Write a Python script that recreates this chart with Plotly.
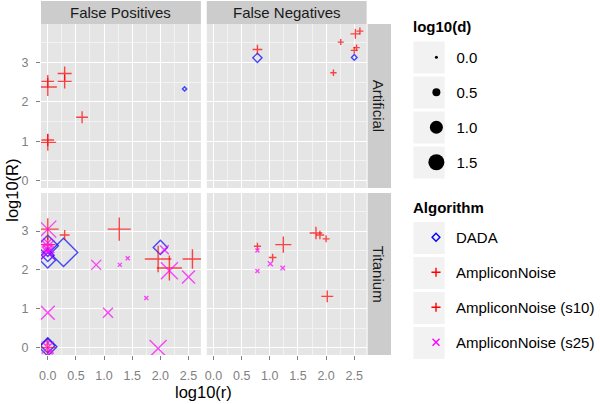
import pandas as pd
import plotly.graph_objects as go

W, H = 600, 404

error_types = ["False Positives", "False Negatives"]
datasets = ["Artificial", "Titanium"]
algorithms = ["DADA", "AmpliconNoise", "AmpliconNoise (s10)", "AmpliconNoise (s25)"]
size_breaks = [0.0, 0.5, 1.0, 1.5]
x_ticks = [0.0, 0.5, 1.0, 1.5, 2.0, 2.5]
y_ticks = [0, 1, 2, 3]

# panel codes: FP/FN = false positives/negatives, A/T = Artificial/Titanium
# values are log10(r), log10(R), log10(d)
dada_panel = ["FP-A", "FN-A", "FN-A", "FP-T", "FP-T", "FP-T", "FP-T", "FP-T", "FP-T", "FP-T"]
dada_r = [2.43, 0.78, 2.50, 0.0, 0.28, 0.0, 0.0, 0.0, 0.0, 2.0]
dada_R = [2.33, 3.12, 3.13, 2.62, 2.45, 2.38, 2.25, 0.02, 0.05, 2.58]
dada_d = [0.0, 0.35, 0.1, 1.2, 1.7, 0.6, 0.8, 1.0, 0.7, 0.7]

an_panel = ["FP-A"] * 7 + ["FN-A"] * 5 + ["FP-T"] * 4 + ["FN-T"] * 4
an_r = [0.0, 0.0, 0.30, 0.30, 0.61, 0.0, 0.0,
        0.78, 2.26, 2.52, 2.60, 2.50,
        0.0, 0.30, 1.96, 0.0,
        0.78, 1.24, 1.82, 2.02]
an_R = [2.38, 2.52, 2.72, 2.52, 1.61, 1.03, 0.97,
        3.33, 3.52, 3.73, 3.80, 3.31,
        3.05, 2.90, 2.28, 0.0,
        2.61, 2.65, 2.95, 1.32]
an_d = [1.0, 0.6, 0.7, 0.7, 0.55, 0.6, 0.9,
        0.4, 0.13, 0.4, 0.2, 0.2,
        1.25, 0.4, 1.6, 0.9,
        0.2, 0.85, 0.6, 0.55]

s10_panel = ["FN-A"] * 2 + ["FP-T"] * 4 + ["FN-T"] * 3
s10_r = [2.54, 2.13, 1.27, 0.0, 2.16, 2.57, 1.05, 1.89, 2.00]
s10_R = [3.38, 2.74, 3.05, 2.65, 2.05, 2.28, 2.32, 2.90, 2.80]
s10_d = [0.15, 0.15, 1.35, 0.8, 1.5, 1.1, 0.25, 0.3, 0.2]

s25_panel = ["FP-T"] * 18 + ["FN-T"] * 4
s25_r = [0.0, 0.0, 0.0, 0.0, 0.0, 0.86, 1.28, 1.42, 1.75, 1.07, 0.0, 1.96,
         0.0, 0.0, 0.05, 2.07, 2.16, 2.50,
         0.78, 0.78, 1.01, 1.23]
s25_R = [3.05, 2.70, 2.60, 2.52, 2.45, 2.13, 2.13, 2.30, 1.28, 0.90, 0.90, -0.02,
         0.0, 0.12, -0.12, 2.52, 1.98, 1.82,
         2.50, 1.97, 2.16, 2.05]
s25_d = [1.4, 0.6, 1.0, 0.8, 0.9, 0.7, 0.1, 0.1, 0.1, 0.7, 1.1, 1.4,
         0.9, 0.15, 0.15, 0.6, 1.4, 1.0,
         0.1, 0.1, 0.2, 0.15]

frames = []
for alg, pan, r, R, d in [
    ("DADA", dada_panel, dada_r, dada_R, dada_d),
    ("AmpliconNoise", an_panel, an_r, an_R, an_d),
    ("AmpliconNoise (s10)", s10_panel, s10_r, s10_R, s10_d),
    ("AmpliconNoise (s25)", s25_panel, s25_r, s25_R, s25_d),
]:
    frames.append(pd.DataFrame({"alg": alg, "panel": pan, "r": r, "R": R, "d": d}))
df = pd.concat(frames, ignore_index=True)

styles = {
    "DADA": dict(symbol="diamond-open", color="#0000FF", k=1.09),
    "AmpliconNoise": dict(symbol="cross-thin", color="#FF0000", k=1.0),
    "AmpliconNoise (s10)": dict(symbol="cross-thin", color="#FF0000", k=1.0),
    "AmpliconNoise (s25)": dict(symbol="x-thin", color="#FF00FF", k=1.0),
}


def size_px(v):
    # linear size scale, as in the ggplot legend
    return 3 + 10 * v


def dom_x(a, b):
    return [a / W, b / W]


def dom_y(top, bottom):
    return [(H - bottom) / H, (H - top) / H]


col_px = {"False Positives": (40, 204), "False Negatives": (210, 374)}
row_px = {"Artificial": (24, 188), "Titanium": (193, 355)}
codes = {("False Positives", "Artificial"): "FP-A", ("False Negatives", "Artificial"): "FN-A",
         ("False Positives", "Titanium"): "FP-T", ("False Negatives", "Titanium"): "FN-T"}

fig = go.Figure()
font = "Liberation Sans"
layout = {}
i = 0
for ds in datasets:
    for et in error_types:
        i += 1
        xa = "xaxis" if i == 1 else f"xaxis{i}"
        ya = "yaxis" if i == 1 else f"yaxis{i}"
        xr = "x" if i == 1 else f"x{i}"
        yr = "y" if i == 1 else f"y{i}"
        bottom = ds == "Titanium"
        left = et == "False Positives"
        layout[xa] = dict(
            domain=dom_x(*col_px[et]), anchor=yr, range=[-0.12, 2.72],
            tickvals=x_ticks, ticktext=[f"{v:.1f}" for v in x_ticks],
            showticklabels=bottom, ticks="outside" if bottom else "", ticklen=4,
            ticklabelstandoff=5,
            tickcolor="#7F7F7F", tickfont=dict(family=font, size=12.5, color="#7F7F7F"),
            showgrid=True, gridcolor="white", gridwidth=1.2, zeroline=False,
            minor=dict(tickvals=[0.25, 0.75, 1.25, 1.75, 2.25], showgrid=True,
                       gridcolor="#F2F2F2", gridwidth=0.6, ticks=""),
            showline=False,
        )
        layout[ya] = dict(
            domain=dom_y(*row_px[ds]), anchor=xr, range=[-0.19, 3.98],
            tickvals=y_ticks, showticklabels=left, ticks="outside" if left else "",
            ticklen=4, tickcolor="#7F7F7F", ticklabelstandoff=5,
            tickfont=dict(family=font, size=12.5, color="#7F7F7F"),
            showgrid=True, gridcolor="white", gridwidth=1.2, zeroline=False,
            minor=dict(tickvals=[0.5, 1.5, 2.5, 3.5], showgrid=True,
                       gridcolor="#F2F2F2", gridwidth=0.6, ticks=""),
            showline=False,
        )
        sub = df[df["panel"] == codes[(et, ds)]]
        for alg in algorithms:
            s = sub[sub["alg"] == alg]
            if s.empty:
                continue
            st = styles[alg]
            fig.add_trace(go.Scatter(
                x=s["r"], y=s["R"], mode="markers", xaxis=xr, yaxis=yr,
                marker=dict(symbol=st["symbol"], color=st["color"],
                            size=[size_px(v) * st["k"] for v in s["d"]],
                            line=dict(color=st["color"], width=1.4)),
                name=alg, showlegend=False, hoverinfo="skip",
            ))

# legend entries: sizes
for j, b in enumerate(size_breaks):
    fig.add_trace(go.Scatter(
        x=[None], y=[None], mode="markers", name=f"{b:.1f}",
        marker=dict(symbol="circle", color="black", size=size_px(b)),
        legend="legend", legendgroup=f"size{j}", showlegend=True))
# legend entries: algorithms
leg_sizes = {"DADA": 6, "AmpliconNoise": 6.5, "AmpliconNoise (s10)": 6.5, "AmpliconNoise (s25)": 7}
for alg in algorithms:
    st = styles[alg]
    fig.add_trace(go.Scatter(
        x=[None], y=[None], mode="markers", name=alg,
        marker=dict(symbol=st["symbol"], color=st["color"], size=leg_sizes[alg],
                    line=dict(color=st["color"], width=1.4)),
        legend="legend2", legendgroup=alg, showlegend=True))

shapes = []
# strips
for et, (a, b) in col_px.items():
    shapes.append(dict(type="rect", xref="paper", yref="paper", x0=a / W, x1=b / W,
                       y0=(H - 24) / H, y1=(H - 1) / H, fillcolor="#CCCCCC", line_width=0, layer="below"))
for ds, (t, bt) in row_px.items():
    shapes.append(dict(type="rect", xref="paper", yref="paper", x0=375 / W, x1=399 / W,
                       y0=(H - bt) / H, y1=(H - t) / H, fillcolor="#CCCCCC", line_width=0, layer="below"))
# legend key backgrounds
for c in [57.5 + 35 * k for k in range(4)] + [238 + 35 * k for k in range(4)]:
    shapes.append(dict(type="rect", xref="paper", yref="paper", x0=422 / W, x1=454 / W,
                       y0=(H - c - 16) / H, y1=(H - c + 16) / H, fillcolor="#F2F2F2",
                       line_width=0, layer="below"))


def note(text, x, y, size, color="black", angle=0, xanchor="center"):
    return dict(text=text, x=x / W, y=(H - y) / H, xref="paper", yref="paper",
                xanchor=xanchor, yanchor="middle", showarrow=False, textangle=angle,
                font=dict(family=font, size=size, color=color))


ann = []
for et, (a, b) in col_px.items():
    ann.append(note(et, (a + b) / 2, 12.5, 15, "#1A1A1A"))
for ds, (t, bt) in row_px.items():
    ann.append(note(ds, 387, (t + bt) / 2, 15, "#1A1A1A", angle=90))
ann.append(note("log10(r)", 207, 392, 16.5))
ann.append(note("log10(R)", 10, 190, 16.5, angle=-90))
ann.append(note("<b>log10(d)</b>", 419, 27, 15, xanchor="left"))
ann.append(note("<b>Algorithm</b>", 419, 207, 15, xanchor="left"))

legend_common = dict(xanchor="left", yanchor="top", bgcolor="rgba(0,0,0,0)", borderwidth=0,
                     font=dict(family=font, size=15, color="black"), itemsizing="trace",
                     traceorder="grouped", tracegroupgap=12.5)
fig.update_layout(
    width=W, height=H, autosize=False,
    margin=dict(l=0, r=0, t=0, b=0),
    paper_bgcolor="white", plot_bgcolor="#E5E5E5",
    shapes=shapes, annotations=ann,
    legend=dict(x=425 / W, y=(H - 41) / H, **legend_common),
    legend2=dict(x=425 / W, y=(H - 221) / H, **legend_common),
    **layout,
)

fig.write_html("out.html", config={"displayModeBar": False},
               post_script="document.body.style.margin='0';")
